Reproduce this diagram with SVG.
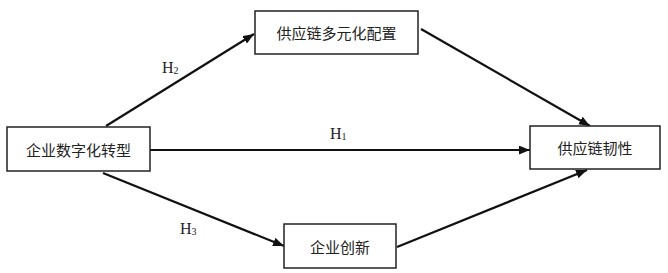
<svg xmlns="http://www.w3.org/2000/svg" width="668" height="273" viewBox="0 0 668 273">
<defs>
<marker id="ah" viewBox="0 0 10 8" refX="10" refY="4" markerWidth="11" markerHeight="9" markerUnits="userSpaceOnUse" orient="auto">
<path d="M0,0 L10,4 L0,8 z" fill="#111"/>
</marker>
<style>
.box{fill:#fff;stroke:#222;stroke-width:1.5}
.lbl{font-family:"Noto Sans CJK SC","Noto Sans",sans-serif;font-size:15px;fill:#222;text-anchor:middle;dominant-baseline:central}
.h{font-family:"Liberation Serif","Times New Roman",serif;font-size:16px;fill:#222}
.sub{font-size:10px}
.edge{stroke:#111;stroke-width:2.2;fill:none;marker-end:url(#ah)}
</style>
</defs>
<rect width="668" height="273" fill="#fff"/>
<g id="connectors">
<line class="edge" x1="106" y1="126" x2="254" y2="34"/>
<line class="edge" x1="150" y1="150" x2="530" y2="150"/>
<line class="edge" x1="103" y1="173" x2="284" y2="246"/>
<line class="edge" x1="421" y1="29" x2="590" y2="126"/>
<line class="edge" x1="397" y1="247" x2="587" y2="170"/>
<text class="h" x="162" y="73">H<tspan class="sub" dy="1">2</tspan></text>
<text class="h" x="330" y="139">H<tspan class="sub" dy="1">1</tspan></text>
<text class="h" x="180" y="234">H<tspan class="sub" dy="1">3</tspan></text>
</g>
<g id="n-digital">
<rect class="box" x="7" y="127" width="143" height="44"/>
<text class="lbl" x="78.5" y="149">企业数字化转型</text>
</g>
<g id="n-diversify">
<rect class="box" x="255" y="11" width="163" height="43"/>
<text class="lbl" x="336.5" y="32.5">供应链多元化配置</text>
</g>
<g id="n-resilience">
<rect class="box" x="530" y="126" width="130" height="43"/>
<text class="lbl" x="595" y="147.5">供应链韧性</text>
</g>
<g id="n-innovation">
<rect class="box" x="284" y="224" width="112" height="44"/>
<text class="lbl" x="340" y="246">企业创新</text>
</g>
</svg>
